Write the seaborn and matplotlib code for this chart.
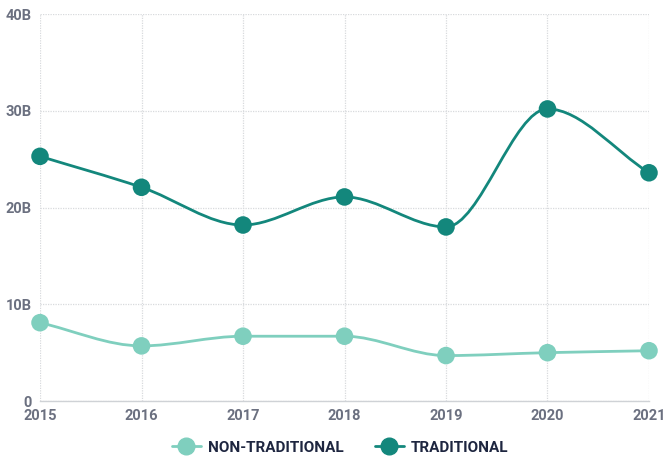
import numpy as np
import pandas as pd
import matplotlib.pyplot as plt
import seaborn as sns
from matplotlib.path import Path
from matplotlib.patches import PathPatch
from matplotlib.lines import Line2D

years = [2015, 2016, 2017, 2018, 2019, 2020, 2021]
traditional = [25.3, 22.1, 18.2, 21.1, 18.0, 30.2, 23.6]
non_traditional = [8.1, 5.7, 6.7, 6.7, 4.7, 5.0, 5.2]
y_ticks = [0, 10, 20, 30, 40]
y_tick_labels = ['0', '10B', '20B', '30B', '40B']

c_trad = '#13877c'
c_non = '#7fcfbe'
tick_col = '#6b7080'
legend_col = '#1e2640'

df = pd.DataFrame({
    'Year': years * 2,
    'Value': non_traditional + traditional,
    'Type': ['NON-TRADITIONAL'] * len(years) + ['TRADITIONAL'] * len(years),
})

sns.set_theme(style='white')
plt.rcParams['font.family'] = ['Roboto', 'DejaVu Sans']

fig = plt.figure(figsize=(6.67, 4.57), dpi=100)
ax = fig.add_axes([0.06, 0.1225, 0.913, 0.8465])


def smooth_path(xs, ys):
    # monotone cubic tangents -> bezier segments
    xs = np.asarray(xs, float)
    ys = np.asarray(ys, float)
    h = np.diff(xs)
    d = np.diff(ys) / h
    m = np.zeros_like(ys)
    m[0], m[-1] = d[0], d[-1]
    for i in range(1, len(ys) - 1):
        if d[i - 1] * d[i] <= 0:
            m[i] = 0
        else:
            m[i] = 2 / (1 / d[i - 1] + 1 / d[i])
    verts = [(xs[0], ys[0])]
    codes = [Path.MOVETO]
    for i in range(len(xs) - 1):
        verts += [(xs[i] + h[i] / 3, ys[i] + m[i] * h[i] / 3),
                  (xs[i + 1] - h[i] / 3, ys[i + 1] - m[i + 1] * h[i] / 3),
                  (xs[i + 1], ys[i + 1])]
        codes += [Path.CURVE4] * 3
    return Path(verts, codes)


for vals, col in [(non_traditional, c_non), (traditional, c_trad)]:
    ax.add_patch(PathPatch(smooth_path(years, vals), fill=False,
                           edgecolor=col, lw=2.0, zorder=2, clip_on=False))

sns.scatterplot(data=df, x='Year', y='Value', hue='Type',
                palette={'NON-TRADITIONAL': c_non, 'TRADITIONAL': c_trad},
                s=160, edgecolor='none', legend=False, zorder=3,
                clip_on=False, ax=ax)

ax.set_xlim(2015, 2021)
ax.set_ylim(0, 40)
ax.set_xticks(years)
ax.set_yticks(y_ticks)
ax.set_yticklabels(y_tick_labels)
ax.set_xlabel('')
ax.set_ylabel('')
ax.grid(True, color='#d8dadd', lw=0.9, ls=(0, (1, 1)))
for s in ['top', 'right', 'left']:
    ax.spines[s].set_visible(False)
ax.spines['bottom'].set_color('#cfd2d6')
ax.spines['bottom'].set_linewidth(1.0)
ax.tick_params(axis='both', length=0, labelsize=10.5, labelcolor=tick_col, pad=6)
for lab in ax.get_xticklabels() + ax.get_yticklabels():
    lab.set_fontweight('bold')

handles = [Line2D([0], [0], color=c, lw=2, marker='o', markersize=12)
           for c in (c_non, c_trad)]
leg = fig.legend(handles, ['NON-TRADITIONAL', 'TRADITIONAL'], loc='lower center',
                 bbox_to_anchor=(0.51, -0.025), ncol=2, frameon=False,
                 handlelength=1.9, columnspacing=2.0, handletextpad=0.5,
                 prop={'weight': 'bold', 'size': 11})
for t in leg.get_texts():
    t.set_color(legend_col)

fig.savefig('out.png', dpi=100)
